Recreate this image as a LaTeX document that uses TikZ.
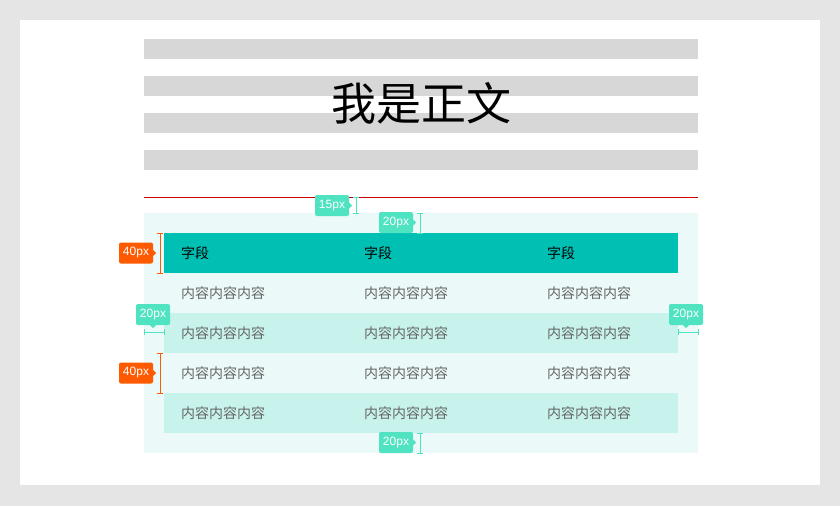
\documentclass[tikz,border=0pt]{standalone}
\usepackage{fontspec}
\setmainfont{Liberation Sans}
\newfontfamily\cjk{Noto Sans CJK SC}
\usetikzlibrary{positioning}
\definecolor{pagegray}{HTML}{E5E5E5}
\definecolor{bargray}{HTML}{D7D7D7}
\definecolor{panelmint}{HTML}{EBFAF8}
\definecolor{headteal}{HTML}{00BFB3}
\definecolor{stripe}{HTML}{C8F2EC}
\definecolor{tagteal}{HTML}{4FE3C1}
\definecolor{tagorange}{HTML}{FF5A00}
\begin{document}
\begin{tikzpicture}[x=1pt,y=-1pt,
  cell/.style={anchor=west,font=\cjk\fontsize{14}{14}\selectfont,text=black!60,inner sep=0pt},
  head/.style={cell,text=black},
  tag/.style={fill=#1,rounded corners=2pt,text=white,font=\fontsize{12}{12}\selectfont,minimum width=34pt,minimum height=21pt,inner sep=0pt},
  dim/.style={draw=#1,line width=1pt,|-|,>=|}]
  \useasboundingbox (0,0) rectangle (840,506);
  \fill[pagegray] (0,0) rectangle (840,506);
  \fill[white] (20,20) rectangle (820,485);
  % text lines
  \foreach \y in {39,76,113,150}
    \fill[bargray] (144,\y) rectangle (698,\y+20);
  \node[font=\cjk\fontsize{45}{45}\selectfont] (title) at (421,103) {我是正文};
  \draw[red!80!black,line width=0.8pt] (144,197) coordinate (ruleL) -- (698,197) coordinate (ruleR);
  % table
  \fill[panelmint] (144,213) rectangle (698,453);
  \fill[headteal] (164,233) rectangle (678,273);
  \fill[stripe] (164,313) rectangle (678,353);
  \fill[stripe] (164,393) rectangle (678,433);
  \foreach \x/\n in {181/a,364/b,547/c} {
    \node[head] (h\n) at (\x,253) {字段};
    \foreach \r/\y in {1/293,2/333,3/373,4/413}
      \node[cell] (c\n\r) at (\x,\y) {内容内容内容};
  }
  % dimension marks
  \node[tag=tagteal] (t15) at (332,205.5) {15px};
  \fill[tagteal] (t15.east) ++(0,-3) -- ++(3,3) -- ++(-3,3) -- cycle;
  \draw[tagteal,line width=1pt] (353,197) -- (359,197) (356,197) -- (356,213) (353,213) -- (359,213);
  \node[tag=tagteal] (t20a) at (396,222.5) {20px};
  \fill[tagteal] (t20a.east) ++(0,-3) -- ++(3,3) -- ++(-3,3) -- cycle;
  \draw[tagteal,line width=1pt] (417,213) -- (423,213) (420,213) -- (420,233) (417,233) -- (423,233);
  \node[tag=tagteal] (t20b) at (396,442.5) {20px};
  \fill[tagteal] (t20b.east) ++(0,-3) -- ++(3,3) -- ++(-3,3) -- cycle;
  \draw[tagteal,line width=1pt] (417,433) -- (423,433) (420,433) -- (420,453) (417,453) -- (423,453);
  \node[tag=tagteal] (t20l) at (153,314.5) {20px};
  \fill[tagteal] (t20l.south) ++(-3,0) -- ++(3,3) -- ++(3,-3) -- cycle;
  \draw[tagteal,line width=1pt] (144,329) -- (144,335) (144,332) -- (164,332) (164,329) -- (164,335);
  \node[tag=tagteal] (t20r) at (686,314.5) {20px};
  \fill[tagteal] (t20r.south) ++(-3,0) -- ++(3,3) -- ++(3,-3) -- cycle;
  \draw[tagteal,line width=1pt] (678,329) -- (678,335) (678,332) -- (698,332) (698,329) -- (698,335);
  \foreach \y/\n in {233/1,353/2} {
    \node[tag=tagorange] (o\n) at (136,\y+20) {40px};
    \fill[tagorange] (o\n.east) ++(0,-3) -- ++(3,3) -- ++(-3,3) -- cycle;
    \draw[tagorange,line width=1pt] (157,\y) -- (163,\y) (160,\y) -- (160,\y+40) (157,\y+40) -- (163,\y+40);
  }
\end{tikzpicture}
\end{document}
